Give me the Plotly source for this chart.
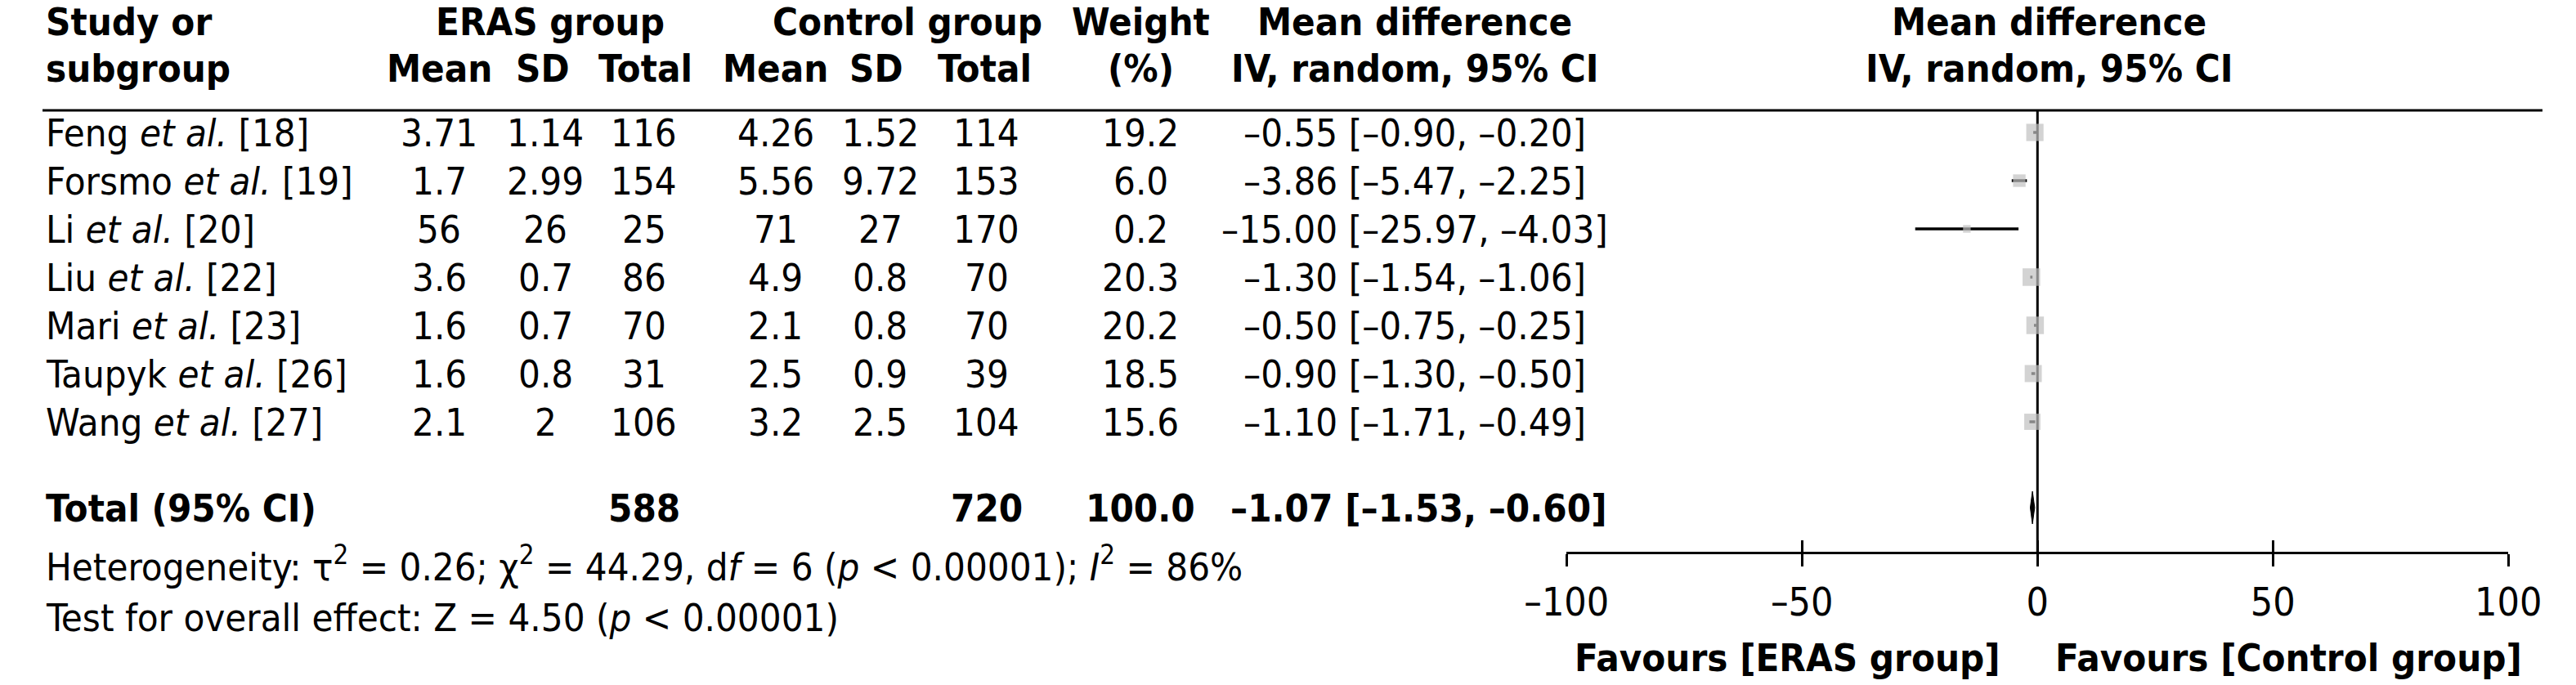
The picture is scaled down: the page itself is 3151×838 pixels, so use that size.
import math
import plotly.graph_objects as go

W, H = 3151, 838

# ---------------- data ----------------
studies = ["Feng", "Forsmo", "Li", "Liu", "Mari", "Taupyk", "Wang"]
refs = [18, 19, 20, 22, 23, 26, 27]
eras_mean = [3.71, 1.7, 56, 3.6, 1.6, 1.6, 2.1]
eras_sd = [1.14, 2.99, 26, 0.7, 0.7, 0.8, 2]
eras_n = [116, 154, 25, 86, 70, 31, 106]
ctrl_mean = [4.26, 5.56, 71, 4.9, 2.1, 2.5, 3.2]
ctrl_sd = [1.52, 9.72, 27, 0.8, 0.8, 0.9, 2.5]
ctrl_n = [114, 153, 170, 70, 70, 39, 104]
weights = [19.2, 6.0, 0.2, 20.3, 20.2, 18.5, 15.6]
md = [-0.55, -3.86, -15.00, -1.30, -0.50, -0.90, -1.10]
ci_lo = [-0.90, -5.47, -25.97, -1.54, -0.75, -1.30, -1.71]
ci_hi = [-0.20, -2.25, -4.03, -1.06, -0.25, -0.50, -0.49]

total_eras_n = 588
total_ctrl_n = 720
total_weight = 100.0
total_md, total_lo, total_hi = -1.07, -1.53, -0.60

tau2, chi2, dof, p_het, i2 = 0.26, 44.29, 6, "0.00001", 86
z_val, p_z = 4.50, "0.00001"

tick_vals = [-100, -50, 0, 50, 100]
tick_text = ["\u2013100", "\u201350", "0", "50", "100"]

# ---------------- layout constants (pixels) ----------------
ROW0, ROW_H = 162, 59
HEAD1_Y, HEAD2_Y, RULE_Y = 26, 83, 135
TOTAL_Y, HET_Y, TEST_Y, AXIS_Y, FAV_Y = 621, 690, 755, 676, 804
X_LEFT_PX, X_RIGHT_PX = 1921, 3108

COL_NAME = 2
COL_EM, COL_ESD, COL_EN = 500, 634, 758
COL_CM, COL_CSD, COL_CN = 924, 1056, 1190
COL_W, COL_CI, COL_PLOT = 1384, 1730, 2529

FONT = "DejaVu Sans Condensed, DejaVu Sans, sans-serif"
FS = 47


def yrow(px):
    return (px - ROW0) / ROW_H


def dash(s):
    return s.replace("-", "\u2013")


def f2(v):
    return dash(f"{v:.2f}")


def ann(text, xpx, ypx, anchor="center", size=FS):
    return dict(text=text, x=xpx / W, xref="paper", y=yrow(ypx), yref="y",
                xanchor=anchor, yanchor="middle", showarrow=False,
                font=dict(family=FONT, size=size, color="black"))


rows = list(range(len(studies)))

fig = go.Figure()

# CI lines and weight squares
fig.add_trace(go.Scatter(
    x=md, y=rows, mode="markers",
    marker=dict(symbol="square", color="#c0c0c0",
                size=[8 + 3 * math.sqrt(w) for w in weights],
                line=dict(width=0)),
    error_x=dict(type="data", symmetric=False,
                 array=[h - m for h, m in zip(ci_hi, md)],
                 arrayminus=[m - l for m, l in zip(md, ci_lo)],
                 color="black", thickness=3.5, width=0),
    hoverinfo="skip", showlegend=False))

# pooled diamond
yt = yrow(TOTAL_Y)
dh = 20 / ROW_H
fig.add_trace(go.Scatter(
    x=[total_lo, total_md, total_hi, total_md, total_lo],
    y=[yt, yt - dh, yt, yt + dh, yt],
    mode="lines", fill="toself", fillcolor="black",
    line=dict(color="black", width=1),
    hoverinfo="skip", showlegend=False))

# helper trace for the overlay axis (upward ticks)
fig.add_trace(go.Scatter(x=[None], y=[None], xaxis="x2", yaxis="y",
                         mode="markers", showlegend=False, hoverinfo="skip"))

annotations = []
# headers
annotations += [
    ann("<b>Study or</b>", COL_NAME, HEAD1_Y, "left"),
    ann("<b>ERAS group</b>", 640, HEAD1_Y),
    ann("<b>Control group</b>", 1090, HEAD1_Y),
    ann("<b>Weight</b>", COL_W, HEAD1_Y),
    ann("<b>Mean difference</b>", COL_CI, HEAD1_Y),
    ann("<b>Mean difference</b>", COL_PLOT, HEAD1_Y),
    ann("<b>subgroup</b>", COL_NAME, HEAD2_Y, "left"),
    ann("<b>Mean</b>", COL_EM, HEAD2_Y),
    ann("<b>SD</b>", 631, HEAD2_Y),
    ann("<b>Total</b>", 760, HEAD2_Y),
    ann("<b>Mean</b>", COL_CM, HEAD2_Y),
    ann("<b>SD</b>", 1051, HEAD2_Y),
    ann("<b>Total</b>", 1188, HEAD2_Y),
    ann("<b>(%)</b>", COL_W, HEAD2_Y),
    ann("<b>IV, random, 95% CI</b>", COL_CI, HEAD2_Y),
    ann("<b>IV, random, 95% CI</b>", COL_PLOT, HEAD2_Y),
]

# study rows
for i in rows:
    ypx = ROW0 + ROW_H * i
    annotations += [
        ann(f"{studies[i]} <i>et al.</i> [{refs[i]}]", COL_NAME, ypx, "left"),
        ann(str(eras_mean[i]), COL_EM, ypx),
        ann(str(eras_sd[i]), COL_ESD, ypx),
        ann(str(eras_n[i]), COL_EN, ypx),
        ann(str(ctrl_mean[i]), COL_CM, ypx),
        ann(str(ctrl_sd[i]), COL_CSD, ypx),
        ann(str(ctrl_n[i]), COL_CN, ypx),
        ann(f"{weights[i]:.1f}", COL_W, ypx),
        ann(f"{f2(md[i])} [{f2(ci_lo[i])}, {f2(ci_hi[i])}]", COL_CI, ypx),
    ]

# total row
annotations += [
    ann("<b>Total (95% CI)</b>", COL_NAME, TOTAL_Y, "left"),
    ann(f"<b>{total_eras_n}</b>", COL_EN, TOTAL_Y),
    ann(f"<b>{total_ctrl_n}</b>", COL_CN, TOTAL_Y),
    ann(f"<b>{total_weight:.1f}</b>", COL_W, TOTAL_Y),
    ann(f"<b>{f2(total_md)} [{f2(total_lo)}, {f2(total_hi)}]</b>", 1735, TOTAL_Y),
]

# statistics
annotations += [
    ann(f"Heterogeneity: \u03c4<sup>2</sup> = {tau2:.2f}; \u03c7<sup>2</sup> = {chi2:.2f}, "
        f"d<i>f</i> = {dof} (<i>p</i> &lt; {p_het}); <i>I</i><sup>2</sup> = {i2}%",
        COL_NAME, HET_Y, "left"),
    ann(f"Test for overall effect: Z = {z_val:.2f} (<i>p</i> &lt; {p_z})",
        COL_NAME, TEST_Y, "left"),
]

# favours labels
annotations += [
    ann("<b>Favours [ERAS group]</b>", 2470, FAV_Y, "right"),
    ann("<b>Favours [Control group]</b>", 2535, FAV_Y, "left"),
]

shapes = [
    dict(type="line", xref="paper", yref="y", x0=0, x1=1,
         y0=yrow(RULE_Y), y1=yrow(RULE_Y), line=dict(color="black", width=3)),
    dict(type="line", xref="x", yref="y", x0=0, x1=0,
         y0=yrow(RULE_Y), y1=yrow(AXIS_Y), line=dict(color="black", width=3),
         layer="below"),
]

dom = [X_LEFT_PX / W, X_RIGHT_PX / W]
axis_pos = 1 - AXIS_Y / H

fig.update_layout(
    width=W, height=H,
    margin=dict(l=0, r=0, t=0, b=0),
    paper_bgcolor="white", plot_bgcolor="white",
    showlegend=False,
    annotations=annotations,
    shapes=shapes,
    xaxis=dict(domain=dom, range=[-100, 100], anchor="free", position=axis_pos,
               showline=True, linecolor="black", linewidth=3,
               ticks="outside", ticklen=15, tickwidth=3, tickcolor="black",
               tickvals=tick_vals, ticktext=tick_text,
               tickfont=dict(family=FONT, size=48, color="black"),
               ticklabelstandoff=2,
               showgrid=False, zeroline=False, fixedrange=True),
    xaxis2=dict(domain=dom, range=[-100, 100], anchor="free", position=axis_pos,
                overlaying="x", showline=False,
                ticks="inside", ticklen=15, tickwidth=3, tickcolor="black",
                tickvals=tick_vals, showticklabels=False,
                showgrid=False, zeroline=False, fixedrange=True),
    yaxis=dict(domain=[0, 1], range=[yrow(H), yrow(0)], visible=False,
               showgrid=False, zeroline=False, fixedrange=True),
)

fig.write_html("out.html", config={"displayModeBar": False},
               post_script="document.body.style.margin='0';document.body.style.overflow='hidden';")
